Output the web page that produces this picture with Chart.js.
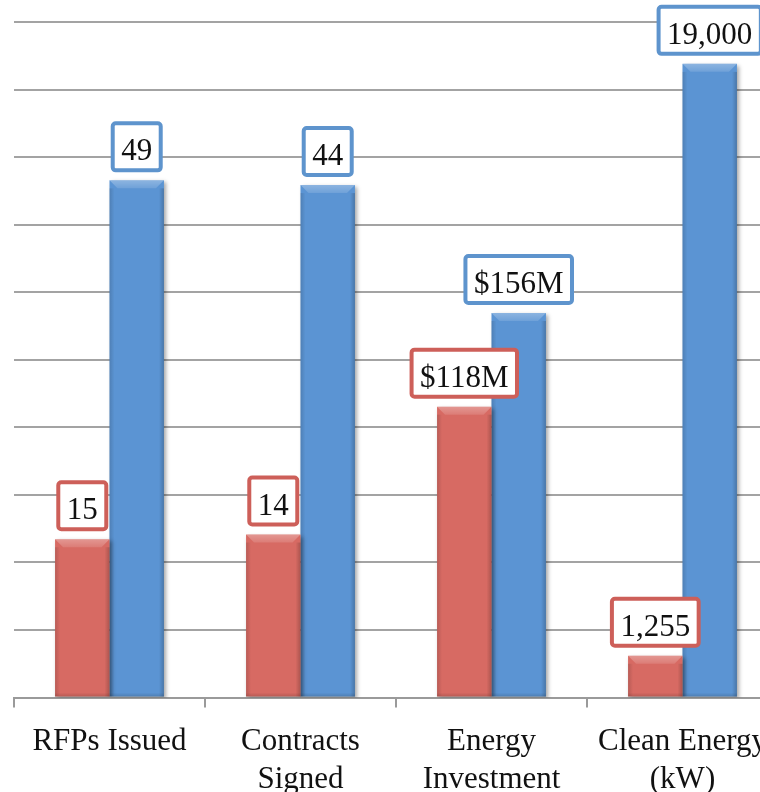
<!DOCTYPE html>
<html>
<head>
<meta charset="utf-8">
<script src="https://cdn.jsdelivr.net/npm/chart.js@4/dist/chart.umd.min.js"></script>
<style>
  html, body { margin: 0; padding: 0; background: #ffffff; overflow: hidden; }
  #wrap { width: 760px; height: 792px; overflow: hidden; position: relative; }
  canvas { display: block; }
</style>
</head>
<body>
<div id="wrap"><canvas id="chart" width="800" height="814"></canvas></div>
<script>
// Categories and the two compared series
const categories = ['RFPs Issued', ['Contracts', 'Signed'], ['Energy', 'Investment'], ['Clean Energy', '(kW)']];
const firstValues = [15, 14, 118, 1255];
const secondValues = [49, 44, 156, 19000];
const firstLabels = ['15', '14', '$118M', '1,255'];
const secondLabels = ['49', '44', '$156M', '19,000'];

// Each pair is shown as its share of the pair total, so very different units sit on one axis
const pairTotals = firstValues.map((v, i) => v + secondValues[i]);
const firstShare = firstValues.map((v, i) => v / pairTotals[i] * 100);
const secondShare = secondValues.map((v, i) => v / pairTotals[i] * 100);

const RED = '#d76a63';
const BLUE = '#5b94d3';
const RED_EDGE = '#cd5f59';
const BLUE_EDGE = '#5e94cd';
const SERIF = '"Liberation Serif", "DejaVu Serif", serif';

// Soft drop shadow under the bars
const barShadow = {
  id: 'barShadow',
  beforeDatasetsDraw(chart) {
    const ctx = chart.ctx;
    ctx.save();
    ctx.shadowColor = 'rgba(0,0,0,0.35)';
    ctx.shadowBlur = 4;
    ctx.shadowOffsetX = 2;
    ctx.shadowOffsetY = 2;
  },
  afterDatasetsDraw(chart) {
    chart.ctx.restore();
  }
};

// Bevelled look: lighter top facet and shaded sides
const barBevel = {
  id: 'barBevel',
  afterDatasetsDraw(chart) {
    const ctx = chart.ctx;
    chart.data.datasets.forEach((ds, di) => {
      chart.getDatasetMeta(di).data.forEach(bar => {
        const l = bar.x - bar.width / 2, r = bar.x + bar.width / 2;
        const t = bar.y, b = bar.base;
        const bv = Math.min(8, (b - t) / 2);
        ctx.save();
        // top facet
        ctx.beginPath();
        ctx.moveTo(l, t); ctx.lineTo(r, t); ctx.lineTo(r - bv, t + bv); ctx.lineTo(l + bv, t + bv); ctx.closePath();
        let g = ctx.createLinearGradient(0, t, 0, t + bv);
        g.addColorStop(0, 'rgba(255,255,255,0.30)'); g.addColorStop(1, 'rgba(255,255,255,0.12)');
        ctx.fillStyle = g;
        ctx.fill();
        // left side
        g = ctx.createLinearGradient(l, 0, l + 5, 0);
        g.addColorStop(0, 'rgba(0,0,0,0.14)'); g.addColorStop(1, 'rgba(0,0,0,0)');
        ctx.fillStyle = g;
        ctx.fillRect(l, t + bv, 5, b - t - bv);
        // right side
        g = ctx.createLinearGradient(r - 5, 0, r, 0);
        g.addColorStop(0, 'rgba(0,0,0,0)'); g.addColorStop(1, 'rgba(0,0,0,0.2)');
        ctx.fillStyle = g;
        ctx.fillRect(r - 5, t + bv, 5, b - t - bv);
        // bottom edge
        g = ctx.createLinearGradient(0, b - 4, 0, b);
        g.addColorStop(0, 'rgba(0,0,0,0)'); g.addColorStop(1, 'rgba(0,0,0,0.15)');
        ctx.fillStyle = g;
        ctx.fillRect(l, b - 4, r - l, 4);
        ctx.restore();
      });
    });
  }
};

// Boxed value labels above each bar
const boxedLabels = {
  id: 'boxedLabels',
  afterDraw(chart) {
    const ctx = chart.ctx;
    const texts = [firstLabels, secondLabels];
    const edges = [RED_EDGE, BLUE_EDGE];
    ctx.save();
    ctx.font = '31px ' + SERIF;
    chart.data.datasets.forEach((ds, di) => {
      chart.getDatasetMeta(di).data.forEach((bar, i) => {
        const txt = texts[di][i];
        const tw = ctx.measureText(txt).width;
        const w = tw + 21, h = 51;
        const x0 = bar.x - w / 2;
        const y1 = bar.y - 8;
        const y0 = y1 - h;
        ctx.beginPath();
        ctx.roundRect(x0 + 2, y0 + 2, w - 4, h - 4, 3);
        ctx.fillStyle = '#ffffff';
        ctx.fill();
        ctx.lineWidth = 4;
        ctx.strokeStyle = edges[di];
        ctx.stroke();
        ctx.fillStyle = '#111111';
        ctx.textAlign = 'center';
        ctx.textBaseline = 'alphabetic';
        ctx.fillText(txt, bar.x, y1 - 12);
      });
    });
    ctx.restore();
  }
};

new Chart(document.getElementById('chart'), {
  type: 'bar',
  data: {
    labels: categories,
    datasets: [
      { label: 'First', data: firstShare, backgroundColor: RED, borderWidth: 0,
        categoryPercentage: 0.57, barPercentage: 1.0 },
      { label: 'Second', data: secondShare, backgroundColor: BLUE, borderWidth: 0,
        categoryPercentage: 0.57, barPercentage: 1.0 }
    ]
  },
  options: {
    responsive: false,
    animation: false,
    layout: { padding: { left: 14, top: 22, right: 22, bottom: 0 } },
    plugins: { legend: { display: false }, tooltip: { enabled: false } },
    scales: {
      x: {
        grid: { display: true, drawOnChartArea: false, drawTicks: true, tickLength: 10, color: '#9a9a9a', lineWidth: 2 },
        border: { display: true, color: '#9a9a9a', width: 2 },
        ticks: {
          color: '#111111', font: { family: SERIF, size: 31, lineHeight: 1.2 },
          padding: 16, maxRotation: 0, minRotation: 0, autoSkip: false
        }
      },
      y: {
        min: 0, max: 100,
        ticks: { display: false, stepSize: 10 },
        grid: { color: '#a3a3a3', lineWidth: 2, drawTicks: false },
        border: { display: false }
      }
    }
  },
  plugins: [barShadow, barBevel, boxedLabels]
});
</script>
</body>
</html>
